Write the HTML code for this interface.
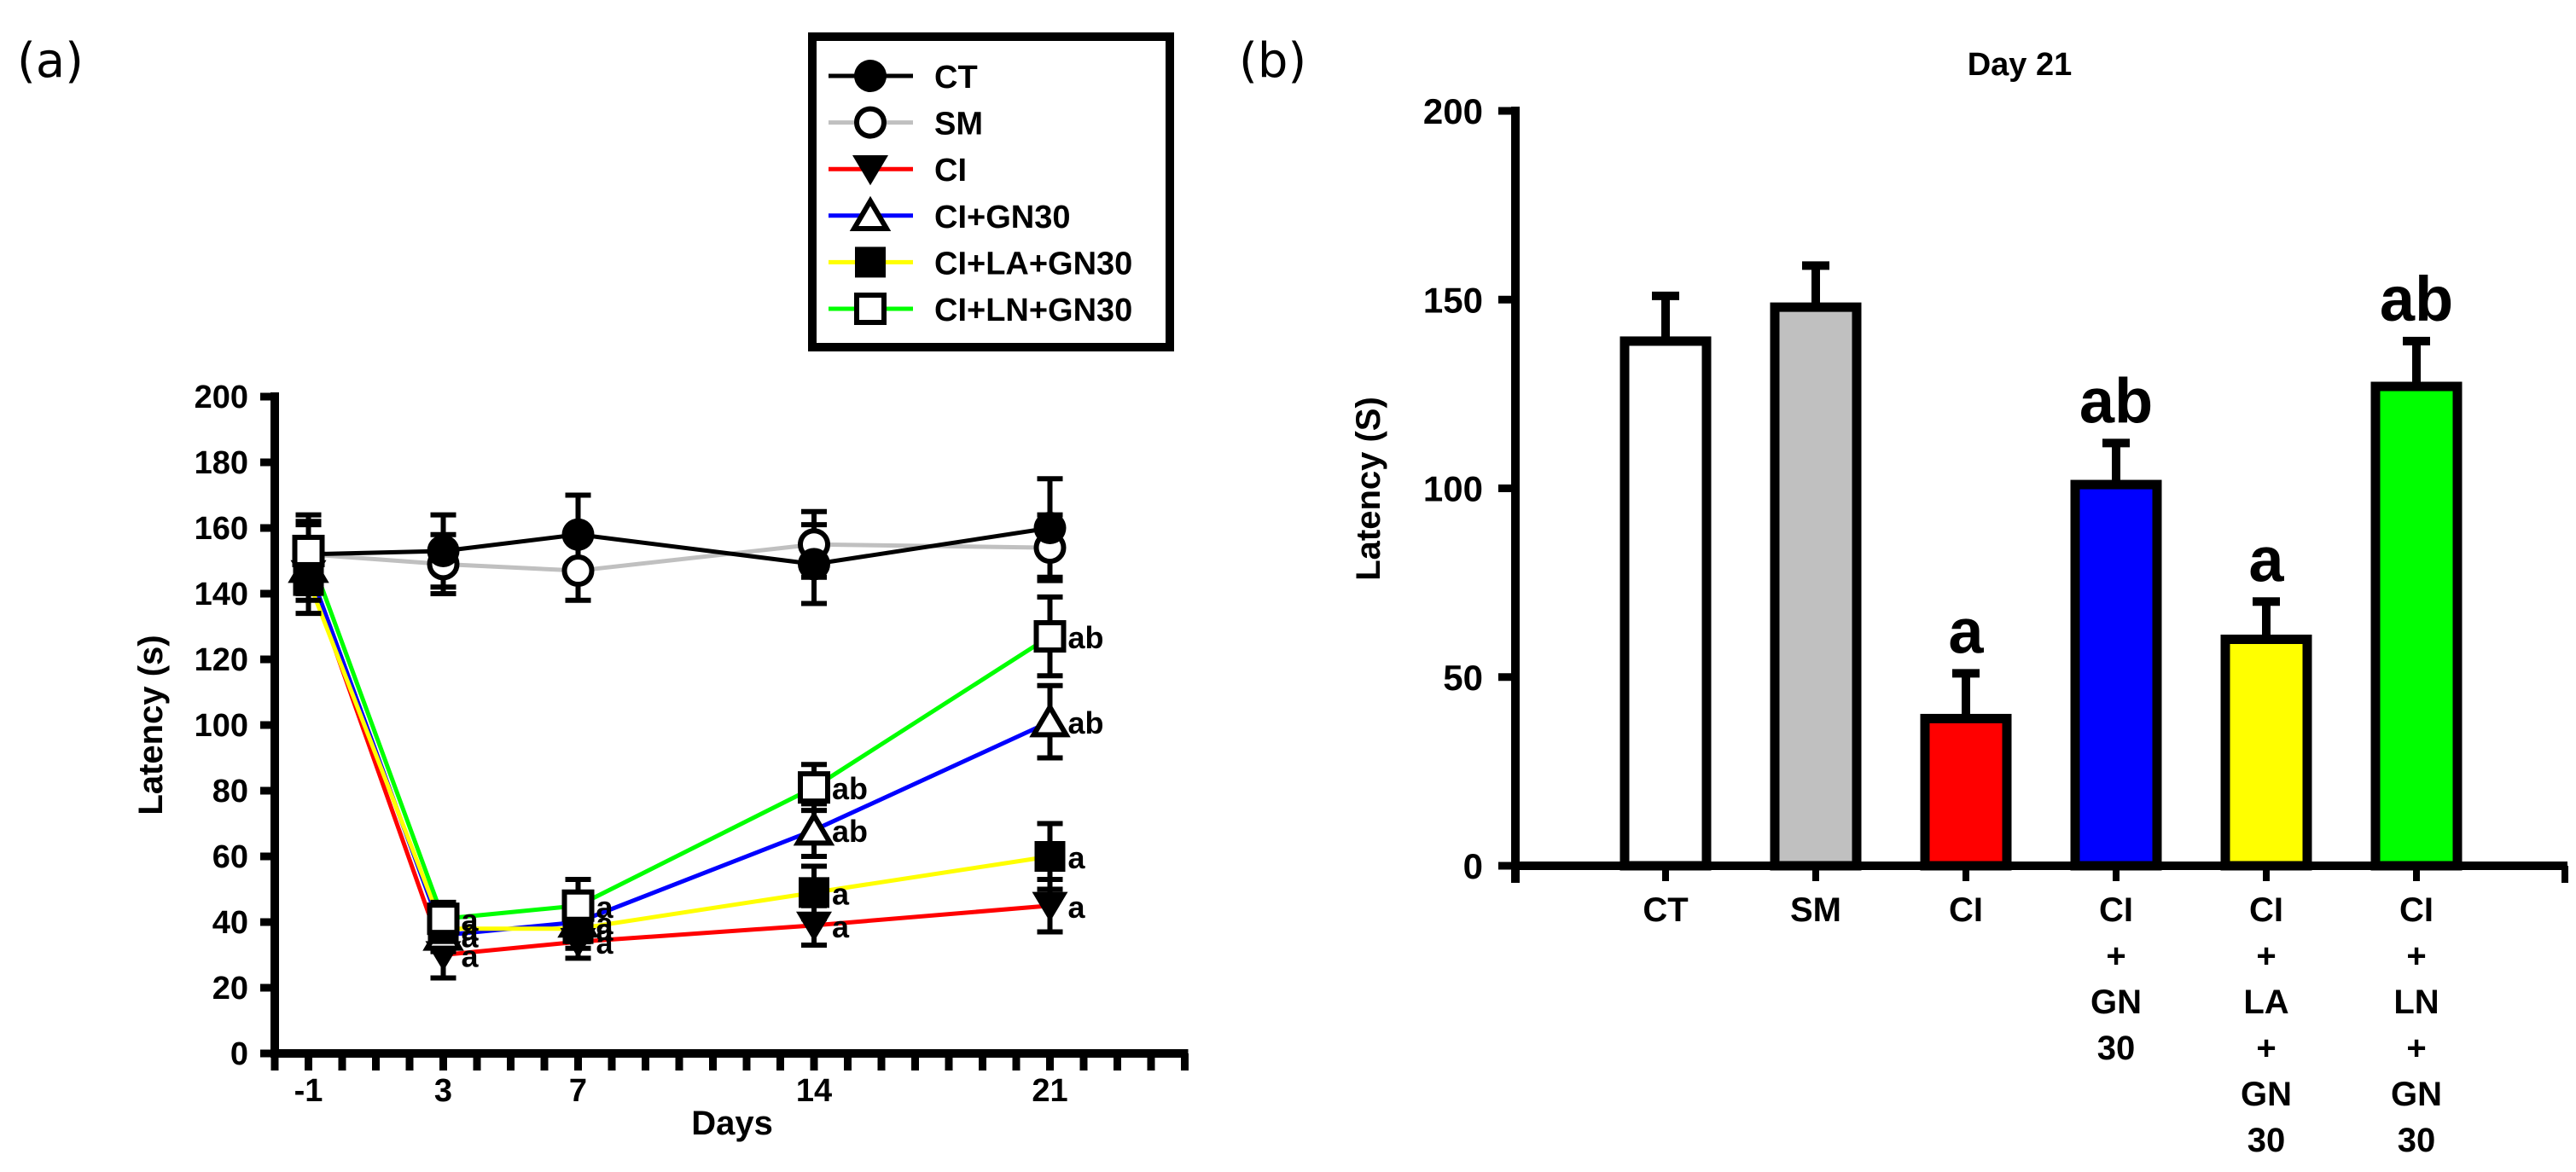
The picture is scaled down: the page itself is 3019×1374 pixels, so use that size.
<!DOCTYPE html>
<html><head><meta charset="utf-8"><style>
html,body{margin:0;padding:0;background:#fff}
svg{display:block}
text{font-family:"Liberation Sans",sans-serif;font-weight:bold;fill:#000}
.n{font-family:"Liberation Sans Narrow","Liberation Sans",sans-serif}
.pl{font-family:"DejaVu Sans","Liberation Sans",sans-serif;font-weight:normal}
</style></head><body>
<svg id="fig" width="3019" height="1374" viewBox="0 0 3019 1374" xmlns="http://www.w3.org/2000/svg">
<text class="pl" x="20" y="90" font-size="56">(a)</text>
<text class="pl" x="1452" y="90" font-size="56">(b)</text>
<g id="left"></g>
<g id="legend"></g>
<g id="right"></g>
</svg>
<script>
const days = [-1, 3, 7, 14, 21];
const seriesNames = ["CT","SM","CI","CI+GN30","CI+LA+GN30","CI+LN+GN30"];
const seriesColors = ["#000000","#c0c0c0","#ff0000","#0000ff","#ffff00","#00ff00"];
const seriesMarkers = ["circle","ocircle","tridown","otri","square","osquare"];
const ctVals = [152, 153, 158, 149, 160];
const smVals = [152, 149, 147, 155, 154];
const ciVals = [146, 30, 34, 39, 45];
const gnVals = [148, 36, 40, 68, 101];
const laVals = [144, 38, 38, 49, 60];
const lnVals = [153, 41, 45, 81, 127];
const ctErr = [12, 11, 12, 12, 15];
const smErr = [10, 9, 9, 10, 10];
const ciErr = [8, 7, 5, 6, 8];
const gnErr = [6, 5, 6, 8, 11];
const laErr = [10, 5, 6, 8, 10];
const lnErr = [8, 5, 8, 7, 12];
const ciMarks = ["", "a", "a", "a", "a"];
const gnMarks = ["", "a", "a", "ab", "ab"];
const laMarks = ["", "a", "a", "a", "a"];
const lnMarks = ["", "a", "a", "ab", "ab"];
const yTicksL = [0,20,40,60,80,100,120,140,160,180,200];

const barCats = [["CT"],["SM"],["CI"],["CI","+","GN","30"],["CI","+","LA","+","GN","30"],["CI","+","LN","+","GN","30"]];
const barVals = [139, 148, 39, 101, 60, 127];
const barErr = [12, 11, 12, 11, 10, 12];
const barMarks = ["", "", "a", "ab", "a", "ab"];
const barColors = ["#ffffff","#c0c0c0","#ff0000","#0000ff","#ffff00","#00ff00"];
const yTicksR = [0,50,100,150,200];

const NS="http://www.w3.org/2000/svg";
function mk(parent, tag, attrs, txt){const e=document.createElementNS(NS,tag);for(const k in attrs)e.setAttribute(k,attrs[k]);if(txt!==undefined)e.textContent=txt;parent.appendChild(e);return e;}

// ---------- Left chart ----------
const L=document.getElementById('left');
const xL=d=>322+(d+2)*39.5;
const yL=v=>1235-v*3.85;
let e;
e=mk(L,'line',{x1:322,y1:yL(0),x2:xL(25)+4,y2:yL(0),stroke:'#000','stroke-width':10});


e=mk(L,'line',{x1:322,y1:yL(200)-5,x2:322,y2:yL(0)+5,stroke:'#000','stroke-width':10});


for(let d=-2; d<=25; d++){
  e=mk(L,'line',{x1:xL(d),y1:yL(0),x2:xL(d),y2:yL(0)+20,stroke:'#000','stroke-width':9});
  
  
}
days.forEach(d=>{
  e=mk(L,'text',{x:xL(d),y:1291,'font-size':38,'text-anchor':'middle',class:'n'},String(d));
  
  
});
yTicksL.forEach(v=>{
  e=mk(L,'line',{x1:305,y1:yL(v),x2:322,y2:yL(v),stroke:'#000','stroke-width':9});
  
  
  e=mk(L,'text',{x:291,y:yL(v)+13,'font-size':38,'text-anchor':'end',class:'n'},String(v));
  
  
});
e=mk(L,'text',{x:858,y:1330,'font-size':40,'text-anchor':'middle',class:'n'},'Days');


e=mk(L,'text',{x:0,y:0,'font-size':40,'text-anchor':'middle',class:'n',transform:'translate(190,850) rotate(-90)'},'Latency (s)');



function marker(g,type,cx,cy,s){
  const r=s/2;
  if(type==='circle') return mk(g,'circle',{cx,cy,r,fill:'#000'});
  if(type==='ocircle') return mk(g,'circle',{cx,cy,r:r-3,fill:'#fff',stroke:'#000','stroke-width':6});
  if(type==='tridown') return mk(g,'polygon',{points:`${cx-r-2},${cy-r*0.85} ${cx+r+2},${cy-r*0.85} ${cx},${cy+r*1.0}`,fill:'#000'});
  if(type==='otri') return mk(g,'polygon',{points:`${cx-r},${cy+r*0.8} ${cx+r},${cy+r*0.8} ${cx},${cy-r*0.9}`,fill:'#fff',stroke:'#000','stroke-width':6});
  if(type==='square') return mk(g,'rect',{x:cx-r+1,y:cy-r+1,width:s-2,height:s-2,fill:'#000'});
  if(type==='osquare') return mk(g,'rect',{x:cx-r+3,y:cy-r+3,width:s-6,height:s-6,fill:'#fff',stroke:'#000','stroke-width':6});
}
const allVals=[ctVals,smVals,ciVals,gnVals,laVals,lnVals];
const allErr=[ctErr,smErr,ciErr,gnErr,laErr,lnErr];
const allMarks=[null,null,ciMarks,gnMarks,laMarks,lnMarks];
const drawOrder=[1,0,2,3,4,5];
// lines
drawOrder.forEach(i=>{
  const pts=allVals[i].map((v,j)=>xL(days[j])+','+yL(v)).join(' ');
  const pl=mk(L,'polyline',{points:pts,fill:'none',stroke:seriesColors[i],'stroke-width':5});
  
  
});
// error bars + markers
drawOrder.forEach(i=>{
  allVals[i].forEach((v,j)=>{
    const x=xL(days[j]);const t=yL(v+allErr[i][j]);const b=yL(v-allErr[i][j]);
    const g=mk(L,'g',{});
    
    
    mk(g,'line',{x1:x,y1:t,x2:x,y2:b,stroke:'#000','stroke-width':6});
    mk(g,'line',{x1:x-15,y1:t,x2:x+15,y2:t,stroke:'#000','stroke-width':6});
    mk(g,'line',{x1:x-15,y1:b,x2:x+15,y2:b,stroke:'#000','stroke-width':6});
  });
});
drawOrder.forEach(i=>{
  allVals[i].forEach((v,j)=>{
    const m=marker(L,seriesMarkers[i],xL(days[j]),yL(v),38);
    
    
    const lab=allMarks[i]?allMarks[i][j]:'';
    if(lab){
      const t=mk(L,'text',{x:xL(days[j])+21,y:yL(v)+14,'font-size':36,class:'n'},lab);
      
      
    }
  });
});

// ---------- Legend ----------
const G=document.getElementById('legend');
e=mk(G,'rect',{x:952,y:43,width:419,height:364,fill:'#fff',stroke:'#000','stroke-width':10});


seriesNames.forEach((n,i)=>{
  const cy=89+i*54.6;
  const g=mk(G,'g',{});
  
  
  mk(g,'line',{x1:971,y1:cy,x2:1070,y2:cy,stroke:seriesColors[i],'stroke-width':5});
  marker(g,seriesMarkers[i],1020,cy,38);
  mk(g,'text',{x:1095,y:cy+14,'font-size':38},n);
});

// ---------- Right chart ----------
const R=document.getElementById('right');
const yR=v=>1015-v*4.425;
const xR=i=>1952+i*176;
e=mk(R,'text',{x:2367,y:88,'font-size':38,'text-anchor':'middle'},'Day 21');


e=mk(R,'text',{x:0,y:0,'font-size':40,'text-anchor':'middle',transform:'translate(1617,573) rotate(-90)'},'Latency (S)');


yTicksR.forEach(v=>{
  e=mk(R,'line',{x1:1756,y1:yR(v),x2:1776,y2:yR(v),stroke:'#000','stroke-width':9});
  
  
  e=mk(R,'text',{x:1738,y:yR(v)+15,'font-size':42,'text-anchor':'end'},String(v));
  
  
});
barVals.forEach((v,i)=>{
  const cx=xR(i);
  const eb=mk(R,'g',{});
  
  
  mk(eb,'line',{x1:cx,y1:yR(v),x2:cx,y2:yR(v+barErr[i]),stroke:'#000','stroke-width':10});
  mk(eb,'line',{x1:cx-16,y1:yR(v+barErr[i]),x2:cx+16,y2:yR(v+barErr[i]),stroke:'#000','stroke-width':10});
  const b=mk(R,'rect',{x:cx-48,y:yR(v),width:96,height:yR(0)-yR(v),fill:barColors[i],stroke:'#000','stroke-width':11});
  
  
  if(barMarks[i]){
    const t=mk(R,'text',{x:cx,y:yR(v+barErr[i])-24,'font-size':74,'text-anchor':'middle'},barMarks[i]);
    
    
  }
  barCats[i].forEach((s,k)=>{
    const t=mk(R,'text',{x:cx,y:1080+k*54,'font-size':40,'text-anchor':'middle'},s);
    
    
  });
  e=mk(R,'line',{x1:cx,y1:yR(0),x2:cx,y2:yR(0)+18,stroke:'#000','stroke-width':8});
  
  
});
e=mk(R,'line',{x1:1776,y1:yR(0),x2:3009,y2:yR(0),stroke:'#000','stroke-width':10});


e=mk(R,'line',{x1:1776,y1:yR(200)-5,x2:1776,y2:yR(0)+20,stroke:'#000','stroke-width':10});


e=mk(R,'line',{x1:3006,y1:yR(0),x2:3006,y2:yR(0)+20,stroke:'#000','stroke-width':8});


</script>
</body></html>
